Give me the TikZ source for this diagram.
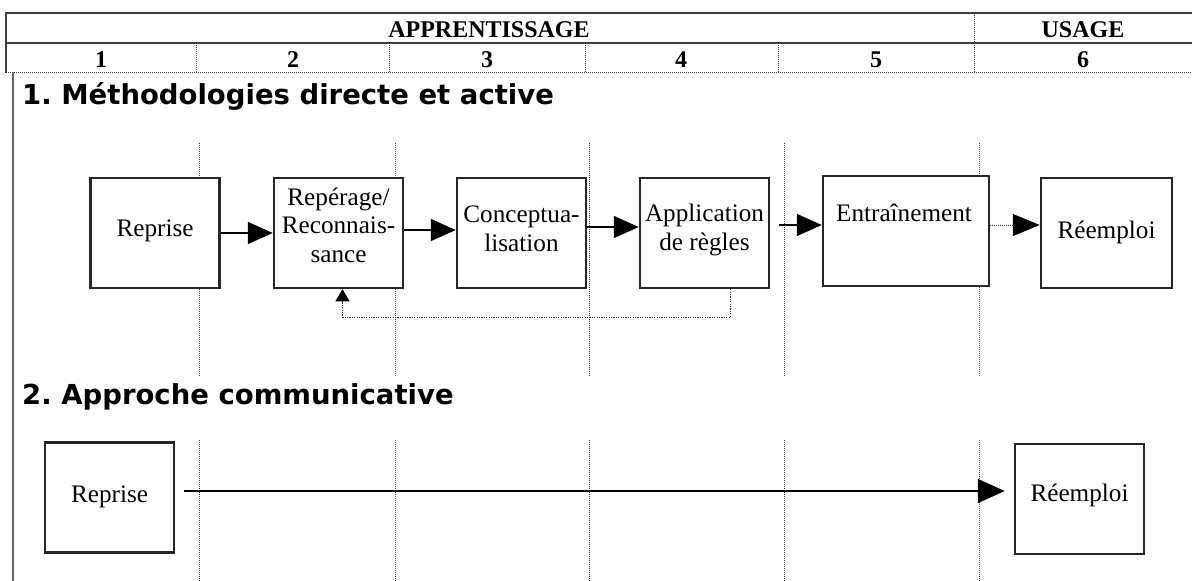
\documentclass[tikz,border=0pt]{standalone}
\usepackage{fontspec}
\setmainfont{Liberation Serif}
\newfontfamily\titlefont{DejaVu Sans}
\usetikzlibrary{arrows.meta}
\frenchspacing
\begin{document}
\begin{tikzpicture}[x=1pt,y=-1pt,
  hline/.style={draw=black!75, line width=1.6pt},
  dotline/.style={draw=black!80, line width=0.9pt, dash pattern=on 1pt off 1pt},
  box/.style={draw=black!85, line width=2.5pt, fill=white, minimum width=129pt, minimum height=110pt, inner sep=0pt},
  txt/.style={font=\fontsize{25.2}{28.5}\selectfont, align=center, inner sep=0pt, anchor=base},
  hdr/.style={font=\fontsize{24}{28}\selectfont\bfseries, inner sep=0pt, anchor=base},
  ttl/.style={font=\titlefont\fontsize{27.5}{32}\selectfont\bfseries, inner sep=0pt, anchor=base west},
  flow/.style={draw=black, line width=1.6pt, -{Triangle[length=25pt,width=22pt]}},
  flowb/.style={draw=black, line width=1.6pt, -{Triangle[length=27pt,width=24pt]}},
  fb/.style={draw=black!85, line width=1pt, dash pattern=on 1.2pt off 1.2pt, -{Triangle[length=12pt,width=14pt,color=black]}}
]
\useasboundingbox (0,0) rectangle (1192,581);
% header table
\draw[hline] (6,13) -- (1192,13);
\draw[hline] (6,43) -- (1192,43);
\draw[hline] (6,12.2) -- (6,73);
\draw[dotline] (6,72) -- (1192,72);
\draw[dotline] (974,13) -- (974,72);
\foreach \x in {196,389,585,778} \draw[dotline] (\x,43) -- (\x,72);
\node[hdr] (happ) at (489,37) {APPRENTISSAGE};
\node[hdr] (husa) at (1083,37) {USAGE};
\foreach \x/\n in {101/1,293/2,487/3,681/4,876/5,1083/6} \node[hdr] (h\n) at (\x,67) {\n};
% left gray rule
\draw[draw=black!60, line width=2pt] (12.5,72) -- (12.5,581);
% titles
\node[ttl] (t1) at (22,104) {1. Méthodologies directe et active};
\node[ttl] (t2) at (22,404) {2. Approche communicative};
% dotted column guides
\foreach \x in {199,395,589,784,979} {
  \draw[dotline] (\x,143) -- (\x,376);
  \draw[dotline] (\x,440) -- (\x,581);
}
% section 1 boxes
\node[box] (b1) at (155,233) {};
\node[box] (b2) at (338.5,233) {};
\node[box] (b3) at (521.5,233) {};
\node[box] (b4) at (704.5,233) {};
\node[box, minimum width=166pt] (b5) at (906,231) {};
\node[box, minimum width=131pt] (b6) at (1106.5,233) {};
\node[txt] (l1) at (155,236) {Reprise};
\node[txt] (l2) at (338.5,262) {Repérage/\\Reconnais-\\sance};
\node[txt] (l3) at (521.5,251) {Conceptua-\\lisation};
\node[txt] (l4) at (704.5,250) {Application\\de règles};
\node[txt] (l5) at (904,221) {Entraînement};
\node[txt] (l6) at (1106.5,238) {Réemploi};
% section 1 arrows
\draw[flow] (b1.east) -- (b2.west);
\draw[flow] ([yshift=3pt]b2.east) -- ([yshift=3pt]b3.west);
\draw[flow] ([yshift=6pt]b3.east) -- ([yshift=6pt]b4.west);
\coordinate (a4) at (779,225);
\draw[flow] (a4) -- (a4 -| b5.west);
\draw[dotline, -{Triangle[length=27pt,width=22pt,color=black]}] ([yshift=6pt]b5.east) -- ([yshift=8pt]b6.west);
\draw[fb] ([xshift=26pt]b4.south) -- ++(0,28) -| ([xshift=4pt]b2.south);
% section 2
\node[box] (c1) at (109.5,497.5) {};
\node[box, minimum width=129pt] (c6) at (1079.5,499) {};
\node[txt] (m1) at (109.5,502) {Reprise};
\node[txt] (m6) at (1079.5,501) {Réemploi};
\draw[flowb, shorten <=9pt, shorten >=9pt] ([yshift=6.5pt]c1.east) -- ([yshift=8pt]c6.west);
\end{tikzpicture}
\end{document}
